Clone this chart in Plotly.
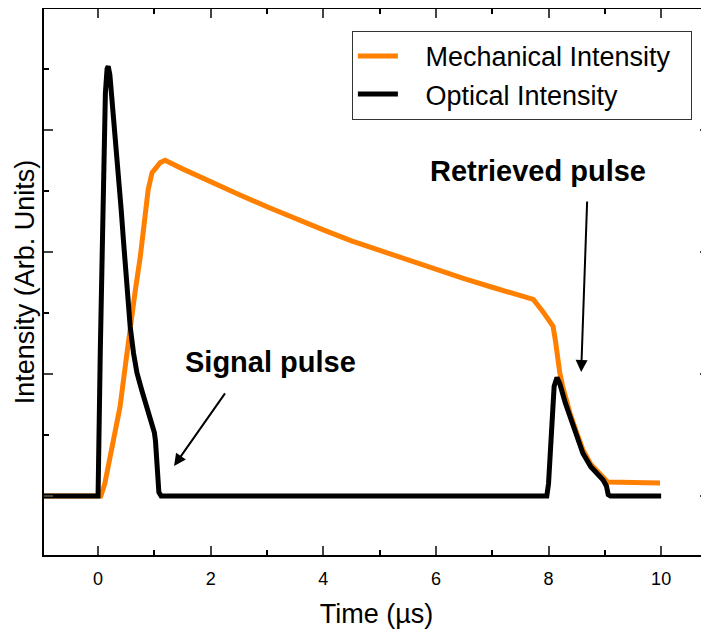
import plotly.graph_objects as go

# ---- data ----
t_mech = [-0.96, 0.05, 0.12, 0.21, 0.30, 0.39, 0.48, 0.57, 0.66, 0.75, 0.82, 0.89,
          0.96, 1.00, 1.05, 1.10, 1.19, 1.50, 2.00, 2.50, 3.00, 3.50, 4.00, 4.50,
          5.00, 5.50, 6.00, 6.50, 7.00, 7.50, 7.73, 7.90, 8.08, 8.12, 8.15, 8.20,
          8.25, 8.30, 8.38, 8.50, 8.61, 8.75, 8.90, 9.00, 9.05, 9.98]
i_mech = [0.00, 0.00, 0.10, 0.32, 0.52, 0.73, 1.05, 1.39, 1.68, 1.96, 2.25, 2.51,
          2.65, 2.68, 2.70, 2.73, 2.75, 2.68, 2.57, 2.47, 2.37, 2.27, 2.18, 2.09,
          2.01, 1.93, 1.85, 1.78, 1.71, 1.64, 1.61, 1.51, 1.39, 1.28, 1.17, 1.01,
          0.90, 0.80, 0.68, 0.52, 0.38, 0.26, 0.18, 0.13, 0.115, 0.107]

t_opt = [-0.96, 0.00, 0.04, 0.07, 0.10, 0.13, 0.16, 0.18, 0.21, 0.25, 0.30, 0.36,
         0.41, 0.45, 0.51, 0.57, 0.63, 0.69, 0.78, 0.87, 0.94, 1.00, 1.02, 1.05,
         1.08, 1.12, 7.97, 8.00, 8.05, 8.10, 8.15, 8.20, 8.30, 8.38, 8.50, 8.61,
         8.75, 8.90, 8.97, 9.03, 9.06, 9.10, 10.00]
i_opt = [0.00, 0.00, 1.20, 2.10, 2.85, 3.30, 3.50, 3.52, 3.45, 3.25, 2.95, 2.65,
         2.35, 2.10, 1.72, 1.39, 1.17, 1.01, 0.86, 0.73, 0.62, 0.52, 0.45, 0.15,
         0.03, 0.00, 0.00, 0.10, 0.55, 0.90, 0.97, 0.92, 0.76, 0.65, 0.48, 0.35,
         0.24, 0.16, 0.13, 0.08, 0.01, 0.00, 0.00]

series_names = ["Mechanical Intensity", "Optical Intensity"]
x_ticks = [0, 2, 4, 6, 8, 10]
y_ticks = [0, 1, 2, 3]

FONT = "Arial, Liberation Sans, sans-serif"
PAD_L = "\u00a0\u00a0\u00a0"
PAD_R = "\u00a0\u00a0"

fig = go.Figure()
fig.add_trace(go.Scatter(x=t_mech, y=i_mech, mode="lines",
                         name=PAD_L + series_names[0] + PAD_R,
                         line=dict(color="#ff8000", width=5)))
fig.add_trace(go.Scatter(x=t_opt, y=i_opt, mode="lines",
                         name=PAD_L + series_names[1] + PAD_R,
                         line=dict(color="black", width=5)))

fig.add_annotation(x=1.35, y=0.246, ax=52, ay=-74, text="", showarrow=True,
                   arrowhead=2, arrowsize=1.2, arrowwidth=2, arrowcolor="black")
fig.add_annotation(x=8.58, y=1.016, ax=6, ay=-172, text="", showarrow=True,
                   arrowhead=2, arrowsize=1.2, arrowwidth=2, arrowcolor="black")
fig.add_annotation(x=3.07, y=1.10, text="<b>Signal pulse</b>", showarrow=False,
                   font=dict(size=29, family=FONT, color="black"))
fig.add_annotation(x=7.82, y=2.66, text="<b>Retrieved pulse</b>", showarrow=False,
                   font=dict(size=29, family=FONT, color="black"))

fig.update_layout(
    width=701, height=630,
    margin=dict(l=36, r=0, t=1, b=83),
    plot_bgcolor="white", paper_bgcolor="white",
    font=dict(family=FONT, color="black"),
    showlegend=True,
    legend=dict(x=0.463, y=0.96, xanchor="left", yanchor="top",
                bordercolor="#333333", borderwidth=1, bgcolor="white",
                font=dict(size=27, family=FONT, color="black"),
                itemwidth=40),
)
fig.update_xaxes(
    range=[-0.96, 10.85], tickvals=x_ticks, ticks="inside", ticklen=9, tickwidth=2,
    showline=True, linewidth=2, linecolor="black", mirror="ticks", automargin=False,
    minor=dict(dtick=1, tick0=0, ticks="inside", ticklen=5, tickwidth=2, tickcolor="black"),
    showgrid=False, zeroline=False, tickfont=dict(size=18, family=FONT),
    ticklabelstandoff=6,
    title=dict(text="Time (µs)", font=dict(size=27, family=FONT), standoff=17),
)
fig.update_yaxes(
    range=[-0.484, 3.99], tickvals=y_ticks, ticks="inside", ticklen=9, tickwidth=2,
    showline=True, linewidth=2, linecolor="black", mirror="ticks", automargin=False,
    minor=dict(dtick=0.5, tick0=0, ticks="inside", ticklen=5, tickwidth=2, tickcolor="black"),
    showgrid=False, zeroline=False, showticklabels=False,
    title=dict(text="Intensity (Arb. Units)", font=dict(size=27, family=FONT), standoff=0),
)

fig.write_html("out.html")
